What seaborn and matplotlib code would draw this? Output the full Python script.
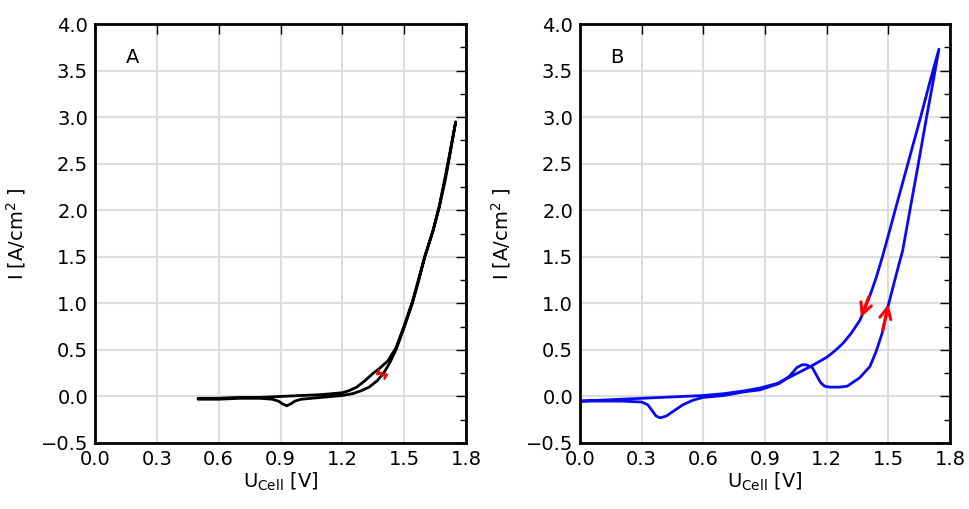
import numpy as np
import pandas as pd
import matplotlib
matplotlib.use("Agg")
import matplotlib.pyplot as plt
import seaborn as sns
from matplotlib.ticker import MultipleLocator

# ---- Panel A data (forward then backward scan) ----
a_fwd_x = [0.50, 0.60, 0.70, 0.80, 0.86, 0.89, 0.91, 0.93, 0.95, 0.97, 1.00, 1.10, 1.20, 1.25,
           1.29, 1.33, 1.37, 1.40, 1.43, 1.46, 1.50, 1.54, 1.57, 1.60, 1.64, 1.67, 1.70,
           1.72, 1.75]
a_fwd_y = [-0.03, -0.03, -0.02, -0.02, -0.03, -0.05, -0.08, -0.10, -0.08, -0.05, -0.03, -0.01, 0.01, 0.03,
           0.06, 0.10, 0.17, 0.25, 0.36, 0.50, 0.74, 1.00, 1.24, 1.50, 1.78, 2.03, 2.33,
           2.57, 2.95]
a_bwd_x = [1.75, 1.72, 1.70, 1.67, 1.64, 1.60, 1.57, 1.54, 1.50, 1.46, 1.42, 1.38, 1.35, 1.31,
           1.27, 1.23, 1.20, 1.10, 1.00, 0.90, 0.80, 0.70, 0.60, 0.50]
a_bwd_y = [2.95, 2.60, 2.37, 2.04, 1.78, 1.50, 1.26, 1.02, 0.76, 0.52, 0.38, 0.30, 0.25, 0.17,
           0.10, 0.06, 0.04, 0.02, 0.01, 0.00, -0.01, -0.01, -0.02, -0.02]

# ---- Panel B data ----
b_fwd_x = [0.00, 0.10, 0.20, 0.30, 0.33, 0.35, 0.37, 0.39, 0.42, 0.46, 0.50, 0.55, 0.60, 0.65,
           0.70, 0.75, 0.80, 0.875, 0.97, 1.02, 1.055, 1.08, 1.10, 1.13, 1.15, 1.17, 1.19,
           1.215, 1.26, 1.30, 1.36, 1.41, 1.44, 1.47, 1.50, 1.535, 1.57, 1.605, 1.646, 1.686,
           1.716, 1.746]
b_fwd_y = [-0.05, -0.05, -0.05, -0.06, -0.09, -0.15, -0.21, -0.23, -0.21, -0.15, -0.09, -0.04, -0.01, 0.00,
           0.01, 0.03, 0.05, 0.07, 0.14, 0.22, 0.31, 0.34, 0.34, 0.31, 0.23, 0.15, 0.11,
           0.10, 0.10, 0.11, 0.20, 0.32, 0.48, 0.68, 0.98, 1.28, 1.57, 2.00, 2.50, 3.00,
           3.36, 3.73]
b_bwd_x = [1.746, 1.70, 1.657, 1.595, 1.533, 1.50, 1.47, 1.44, 1.41, 1.385, 1.362, 1.32, 1.279, 1.24,
           1.20, 1.12, 1.04, 0.96, 0.875, 0.80, 0.70, 0.60, 0.50, 0.40, 0.30, 0.20, 0.10, 0.00]
b_bwd_y = [3.73, 3.36, 3.00, 2.50, 2.00, 1.73, 1.49, 1.27, 1.08, 0.94, 0.82, 0.68, 0.57, 0.49,
           0.42, 0.32, 0.23, 0.14, 0.09, 0.06, 0.03, 0.01, 0.00, -0.01, -0.02, -0.03, -0.04, -0.05]

x_ticks = [0.0, 0.3, 0.6, 0.9, 1.2, 1.5, 1.8]
y_ticks = [-0.5, 0.0, 0.5, 1.0, 1.5, 2.0, 2.5, 3.0, 3.5, 4.0]
panel_labels = ["A", "B"]

sns.set_style("white")
plt.rcParams["font.family"] = ["DejaVu Sans"]
plt.rcParams["text.color"] = "black"
plt.rcParams["axes.labelcolor"] = "black"
plt.rcParams["xtick.color"] = "black"
plt.rcParams["ytick.color"] = "black"

fig = plt.figure(figsize=(9.69, 5.09), dpi=100)
axA = fig.add_axes([95/969, 1-443/509, 371/969, 419/509])
axB = fig.add_axes([580/969, 1-443/509, 370/969, 419/509])

def make_df(fx, fy, bx, by):
    x = list(fx) + list(bx)
    y = list(fy) + list(by)
    return pd.DataFrame({"U": x, "I": y, "order": np.arange(len(x))})

dfA = make_df(a_fwd_x, a_fwd_y, a_bwd_x, a_bwd_y)
dfB = make_df(b_fwd_x, b_fwd_y, b_bwd_x, b_bwd_y)

sns.lineplot(data=dfA, x="U", y="I", sort=False, estimator=None, color="black", lw=2.0, ax=axA)
sns.lineplot(data=dfB, x="U", y="I", sort=False, estimator=None, color="#0a0aee", lw=2.0, ax=axB)
for ax in (axA, axB):
    for ln in ax.lines:
        ln.set_solid_joinstyle("round")
        ln.set_solid_capstyle("round")

for ax, lab in zip([axA, axB], panel_labels):
    ax.set_xlim(0.0, 1.8)
    ax.set_ylim(-0.5, 4.0)
    ax.set_xticks(x_ticks)
    ax.set_yticks(y_ticks)
    ax.set_xticklabels([f"{v:.1f}" for v in x_ticks])
    ax.set_yticklabels([f"{v:.1f}".replace("-", "\u2212") for v in y_ticks])
    ax.yaxis.set_minor_locator(MultipleLocator(0.25))
    ax.grid(True, which="major", color="#dddddd", lw=1.5)
    ax.set_axisbelow(True)
    ax.tick_params(which="both", direction="in", top=True, right=True, labelsize=14,
                   color="black", width=1, labelcolor="black")
    ax.tick_params(which="major", length=7, pad=5)
    ax.tick_params(which="minor", length=4)
    for s in ax.spines.values():
        s.set_color("black")
        s.set_linewidth(2)
    ax.set_xlabel(r"U$_{\mathrm{Cell}}$ [V]", fontsize=14, labelpad=1, color="black")
    ax.set_ylabel(r"I [A/cm$^2$ ]", fontsize=14, labelpad=9, color="black")
    ax.text(0.10, 0.92, lab, transform=ax.transAxes, fontsize=14, ha="center", va="center",
            color="black")

# red scan-direction arrows
arr = dict(arrowstyle="->", color="red", lw=2.2, mutation_scale=20)
axB.annotate("", xy=(1.362, 0.82), xytext=(1.41, 1.10), arrowprops=arr)
axB.annotate("", xy=(1.503, 1.02), xytext=(1.47, 0.68), arrowprops=arr)
arrs = dict(arrowstyle="->", color="red", lw=1.8, mutation_scale=7)
axA.annotate("", xy=(1.35, 0.20), xytext=(1.385, 0.27), arrowprops=arrs)
axA.annotate("", xy=(1.435, 0.27), xytext=(1.40, 0.21), arrowprops=arrs)

fig.savefig("out.png", dpi=100)
